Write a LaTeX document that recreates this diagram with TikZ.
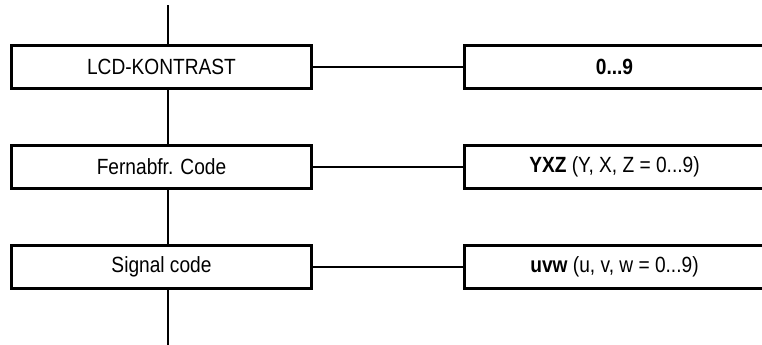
\documentclass[tikz,border=0pt]{standalone}
\usepackage{fontspec}
\setmainfont{Liberation Sans}[FakeStretch=0.87]
\usetikzlibrary{positioning}

\tikzset{
  menubox/.style={draw, line width=1.5pt, fill=white, minimum width=150pt,
    minimum height=21.5pt, inner sep=0pt, font=\fontsize{11}{13}\selectfont},
  link/.style={line width=0.8pt},
  spine/.style={line width=1pt}
}

\begin{document}
\begin{tikzpicture}[x=0.5pt, y=-0.5pt]
  \useasboundingbox (0,0) rectangle (762,344);
  % menu entries
  \node[menubox] (lcd) at (161.5, 67) {LCD-KONTRAST};
  \node[menubox] (fern) at (161.5, 167) {Fernabfr. Code};
  \node[menubox] (sig) at (161.5, 267) {Signal code};
  % values
  \node[menubox] (lcdval) at (614.5, 67) {\textbf{0...9}};
  \node[menubox] (fernval) at (614.5, 167) {\textbf{YXZ} (Y, X, Z = 0...9)};
  \node[menubox] (sigval) at (614.5, 267) {\textbf{uvw} (u, v, w = 0...9)};
  % spine
  \coordinate (top) at (168, 5);
  \coordinate (bot) at (168, 350);
  \draw[spine] (top) -- (top |- lcd.north);
  \draw[spine] (top |- lcd.south) -- (top |- fern.north);
  \draw[spine] (top |- fern.south) -- (top |- sig.north);
  \draw[spine] (top |- sig.south) -- (bot);
  % links
  \draw[link] (lcd) -- (lcdval);
  \draw[link] (fern) -- (fernval);
  \draw[link] (sig) -- (sigval);
\end{tikzpicture}
\end{document}
